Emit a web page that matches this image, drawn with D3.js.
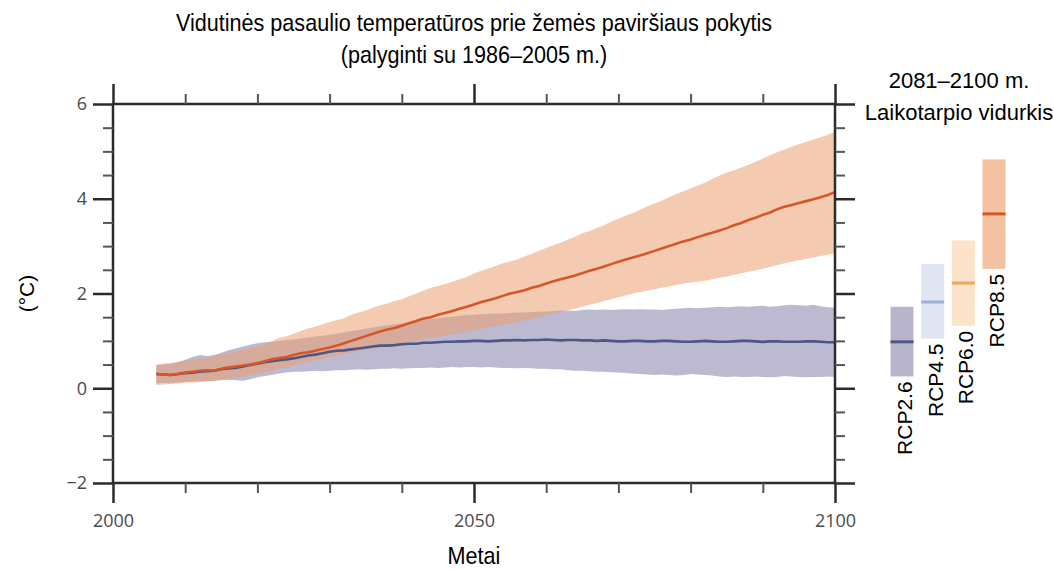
<!DOCTYPE html>
<html>
<head>
<meta charset="utf-8">
<script src="https://cdn.jsdelivr.net/npm/d3@7"></script>
<style>
    body { margin: 0; background: #fff; }
    text { font-family: "Liberation Sans", Arial, sans-serif; }
</style>
</head>
<body>
<svg id="chart" width="1054" height="569"></svg>
<script>
// years of the projection (2006 ... 2100)
var firstYear = 2006, lastYear = 2100;

// RCP2.6 multi-model mean and spread
var rcp26Mean = [0.30,0.29,0.28,0.30,0.32,0.33,0.35,0.36,0.37,0.40,0.42,0.43,0.46,0.49,0.52,0.55,0.57,0.59,0.61,0.63,
    0.66,0.69,0.71,0.74,0.77,0.79,0.80,0.82,0.84,0.86,0.88,0.90,0.90,0.91,0.93,0.94,0.94,0.96,0.96,0.97,
    0.98,0.98,0.99,0.99,1.00,1.00,0.99,1.00,1.01,1.01,1.02,1.01,1.02,1.02,1.03,1.02,1.01,1.02,1.02,1.01,
    1.01,1.00,1.01,1.00,0.99,0.99,1.00,1.00,0.99,0.99,1.00,1.00,0.99,0.98,0.98,0.99,1.00,0.99,0.98,0.98,
    0.99,1.00,1.00,0.99,0.98,0.99,0.99,0.98,0.98,0.98,0.99,0.99,0.98,0.97,0.97];
var rcp26Low = [0.10,0.11,0.11,0.12,0.13,0.14,0.15,0.15,0.16,0.17,0.18,0.17,0.16,0.19,0.23,0.26,0.28,0.31,0.33,0.35,
    0.35,0.36,0.37,0.36,0.37,0.38,0.38,0.39,0.40,0.39,0.40,0.41,0.41,0.42,0.41,0.42,0.43,0.43,0.44,0.43,
    0.44,0.45,0.44,0.45,0.45,0.44,0.45,0.44,0.43,0.43,0.42,0.43,0.42,0.41,0.41,0.40,0.40,0.38,0.37,0.37,
    0.36,0.35,0.35,0.34,0.33,0.32,0.31,0.30,0.29,0.28,0.29,0.28,0.27,0.28,0.30,0.29,0.28,0.27,0.25,0.24,
    0.25,0.24,0.24,0.25,0.24,0.23,0.24,0.26,0.25,0.24,0.23,0.24,0.24,0.25,0.24];
var rcp26High = [0.48,0.50,0.52,0.55,0.60,0.66,0.70,0.68,0.70,0.75,0.80,0.84,0.88,0.92,0.95,0.97,0.98,1.00,1.02,1.03,
    1.05,1.07,1.09,1.11,1.13,1.15,1.18,1.21,1.23,1.26,1.28,1.31,1.33,1.35,1.37,1.40,1.42,1.44,1.46,1.48,
    1.50,1.51,1.53,1.54,1.55,1.56,1.57,1.58,1.58,1.59,1.60,1.60,1.61,1.62,1.62,1.63,1.64,1.64,1.63,1.65,
    1.66,1.65,1.66,1.65,1.66,1.67,1.66,1.67,1.66,1.66,1.65,1.67,1.68,1.69,1.70,1.69,1.70,1.71,1.72,1.71,
    1.72,1.73,1.72,1.73,1.74,1.72,1.73,1.75,1.76,1.75,1.74,1.76,1.73,1.71,1.70];

// RCP8.5 multi-model mean and spread
var rcp85Mean = [0.30,0.29,0.28,0.30,0.33,0.35,0.37,0.38,0.37,0.41,0.44,0.46,0.48,0.50,0.53,0.57,0.61,0.64,0.66,0.70,
    0.74,0.76,0.79,0.83,0.86,0.90,0.95,1.00,1.05,1.10,1.15,1.20,1.24,1.27,1.32,1.37,1.42,1.47,1.50,1.55,
    1.59,1.63,1.68,1.72,1.77,1.82,1.86,1.90,1.95,2.00,2.03,2.07,2.12,2.16,2.21,2.26,2.30,2.34,2.38,2.43,
    2.48,2.52,2.57,2.62,2.67,2.72,2.76,2.80,2.85,2.90,2.95,3.00,3.05,3.10,3.14,3.19,3.24,3.28,3.33,3.38,
    3.44,3.49,3.55,3.60,3.66,3.71,3.78,3.83,3.87,3.91,3.95,3.99,4.03,4.08,4.14];
var rcp85Low = [0.07,0.08,0.09,0.10,0.12,0.12,0.13,0.15,0.16,0.18,0.20,0.22,0.24,0.27,0.30,0.33,0.37,0.41,0.44,0.48,
    0.52,0.55,0.59,0.62,0.66,0.69,0.72,0.75,0.78,0.81,0.84,0.87,0.90,0.92,0.95,0.98,1.00,1.03,1.06,1.08,
    1.11,1.14,1.16,1.19,1.22,1.25,1.28,1.31,1.34,1.37,1.40,1.43,1.46,1.50,1.54,1.58,1.62,1.65,1.68,1.72,
    1.76,1.80,1.84,1.88,1.92,1.96,2.00,2.03,2.06,2.09,2.12,2.15,2.18,2.21,2.23,2.25,2.27,2.30,2.33,2.36,
    2.39,2.43,2.46,2.49,2.52,2.56,2.60,2.64,2.67,2.70,2.73,2.76,2.79,2.82,2.86];
var rcp85High = [0.50,0.52,0.53,0.56,0.58,0.60,0.63,0.64,0.68,0.72,0.74,0.78,0.82,0.85,0.88,0.93,1.00,1.06,1.10,1.15,
    1.21,1.26,1.30,1.35,1.40,1.44,1.48,1.55,1.60,1.64,1.70,1.75,1.79,1.84,1.88,1.94,2.00,2.06,2.12,2.16,
    2.20,2.25,2.30,2.35,2.42,2.48,2.53,2.58,2.64,2.68,2.72,2.78,2.84,2.90,2.96,3.02,3.07,3.14,3.20,3.27,
    3.32,3.38,3.44,3.52,3.58,3.64,3.70,3.77,3.84,3.90,3.96,4.03,4.10,4.16,4.22,4.28,4.34,4.42,4.49,4.55,
    4.60,4.66,4.72,4.78,4.85,4.92,4.98,5.04,5.10,5.15,5.20,5.25,5.30,5.35,5.42];

// 2081-2100 period averages
var scenarios = ['RCP2.6', 'RCP4.5', 'RCP6.0', 'RCP8.5'];
var periodMean = [0.98, 1.82, 2.22, 3.68];
var periodLow = [0.25, 1.05, 1.32, 2.52];
var periodHigh = [1.72, 2.62, 3.12, 4.83];

var xMajor = [2000, 2050, 2100];
var xMinor = [2010, 2020, 2030, 2040, 2060, 2070, 2080, 2090];
var yMajor = [-2, 0, 2, 4, 6];
var yMinor = [-1.5, -1, -0.5, 0.5, 1, 1.5, 2.5, 3, 3.5, 4.5, 5, 5.5];

var svg = d3.select('#chart');

var x = d3.scaleLinear().domain([2000, 2100]).range([113, 835]);
var y = d3.scaleLinear().domain([-2, 6]).range([483, 104]);

var years = d3.range(firstYear, lastYear + 1);

function series(mean, low, high) {
    return years.map(function(yr, i) {
        return { year: yr, mean: mean[i], low: low[i], high: high[i] };
    });
}
var s26 = series(rcp26Mean, rcp26Low, rcp26High);
var s85 = series(rcp85Mean, rcp85Low, rcp85High);

var area = d3.area()
    .x(function(d) { return x(d.year); })
    .y0(function(d) { return y(d.low); })
    .y1(function(d) { return y(d.high); });
var line = d3.line()
    .x(function(d) { return x(d.year); })
    .y(function(d) { return y(d.mean); });

// spread bands
svg.append('path').datum(s26)
    .attr('d', area)
    .attr('fill', '#7a74a2')
    .attr('fill-opacity', 0.5);
svg.append('path').datum(s85)
    .attr('d', area)
    .attr('fill', '#eba070')
    .attr('fill-opacity', 0.55);

// mean lines
svg.append('path').datum(s26)
    .attr('d', line)
    .attr('fill', 'none')
    .attr('stroke', '#4d5784')
    .attr('stroke-width', 2.6);
svg.append('path').datum(s85)
    .attr('d', line)
    .attr('fill', 'none')
    .attr('stroke', '#d8552a')
    .attr('stroke-width', 2.6);

// frame
svg.append('rect')
    .attr('x', x(2000)).attr('y', y(6))
    .attr('width', x(2100) - x(2000)).attr('height', y(-2) - y(6))
    .attr('fill', 'none')
    .attr('stroke', '#2b2b2b')
    .attr('stroke-width', 2.5);

function ticks(axis, pos, values, size, width, color) {
    var g = svg.append('g')
        .attr('transform', pos)
        .call(axis.tickValues(values).tickSize(size).tickSizeOuter(0));
    g.select('.domain').remove();
    g.selectAll('line').attr('stroke', color).attr('stroke-width', width);
    return g;
}

var tickColor = '#2b2b2b', minorColor = '#555';

// minor ticks
ticks(d3.axisLeft(y).tickFormat(''), 'translate(' + x(2000) + ',0)', yMinor, 10, 2, minorColor);
ticks(d3.axisRight(y).tickFormat(''), 'translate(' + x(2100) + ',0)', yMinor, 10, 2, minorColor);
ticks(d3.axisTop(x).tickFormat(''), 'translate(0,' + y(6) + ')', xMinor, 10, 2, minorColor);
ticks(d3.axisBottom(x).tickFormat(''), 'translate(0,' + y(-2) + ')', xMinor, 10, 2, minorColor);

// major ticks
var left = ticks(d3.axisLeft(y).tickPadding(6), 'translate(' + x(2000) + ',0)', yMajor, 20, 2.5, tickColor);
ticks(d3.axisRight(y).tickFormat(''), 'translate(' + x(2100) + ',0)', yMajor, 20, 2.5, tickColor);
ticks(d3.axisTop(x).tickFormat(''), 'translate(0,' + y(6) + ')', xMajor, 20, 2.5, tickColor);
var bottom = ticks(d3.axisBottom(x).tickFormat(d3.format('d')).tickPadding(11), 'translate(0,' + y(-2) + ')', xMajor, 20, 2.5, tickColor);

[left, bottom].forEach(function(g) {
    g.selectAll('text')
        .attr('fill', '#4a4a4a')
        .style('font-family', '"Open Sans", "Liberation Sans", sans-serif')
        .style('font-size', '18px');
});

// titles (narrow lettering, as in the original)
function narrow(tx, ty, size, label) {
    svg.append('text')
        .attr('transform', 'translate(' + tx + ',' + ty + ') scale(0.9,1)')
        .attr('text-anchor', 'middle')
        .style('font-size', size + 'px')
        .text(label);
}
narrow(474, 31, 24, 'Vidutinės pasaulio temperatūros prie žemės paviršiaus pokytis');
narrow(474, 63, 24, '(palyginti su 1986–2005 m.)');
narrow(x(2050), 564, 24, 'Metai');

svg.append('text')
    .attr('transform', 'translate(34,' + y(2) + ') rotate(-90)')
    .attr('text-anchor', 'middle')
    .style('font-size', '21px')
    .text('(°C)');

svg.append('text')
    .attr('x', 959).attr('y', 88)
    .attr('text-anchor', 'middle')
    .style('font-size', '22px')
    .text('2081–2100 m.');
svg.append('text')
    .attr('x', 959).attr('y', 120)
    .attr('text-anchor', 'middle')
    .style('font-size', '22px')
    .text('Laikotarpio vidurkis');

// period average bars
var lx = d3.scalePoint().domain(scenarios).range([902, 994]);
var barFill = ['#b8b4cc', '#dfe6f2', '#fce3c9', '#f2c2a1'];
var barLine = ['#4d5784', '#9fb2d6', '#efa55e', '#d8552a'];
var barW = 23;

var bars = svg.append('g')
    .selectAll('g')
    .data(scenarios)
    .enter().append('g');

bars.append('rect')
    .attr('x', function(d) { return lx(d) - barW / 2; })
    .attr('y', function(d, i) { return y(periodHigh[i]); })
    .attr('width', barW)
    .attr('height', function(d, i) { return y(periodLow[i]) - y(periodHigh[i]); })
    .attr('fill', function(d, i) { return barFill[i]; });

bars.append('line')
    .attr('x1', function(d) { return lx(d) - barW / 2; })
    .attr('x2', function(d) { return lx(d) + barW / 2; })
    .attr('y1', function(d, i) { return y(periodMean[i]); })
    .attr('y2', function(d, i) { return y(periodMean[i]); })
    .attr('stroke', function(d, i) { return barLine[i]; })
    .attr('stroke-width', 3);

bars.append('text')
    .attr('transform', function(d, i) {
        return 'translate(' + (lx(d) + 10) + ',' + (y(periodLow[i]) + 5) + ') rotate(-90)';
    })
    .attr('text-anchor', 'end')
    .style('font-size', '21px')
    .text(function(d) { return d; });
</script>
</body>
</html>
